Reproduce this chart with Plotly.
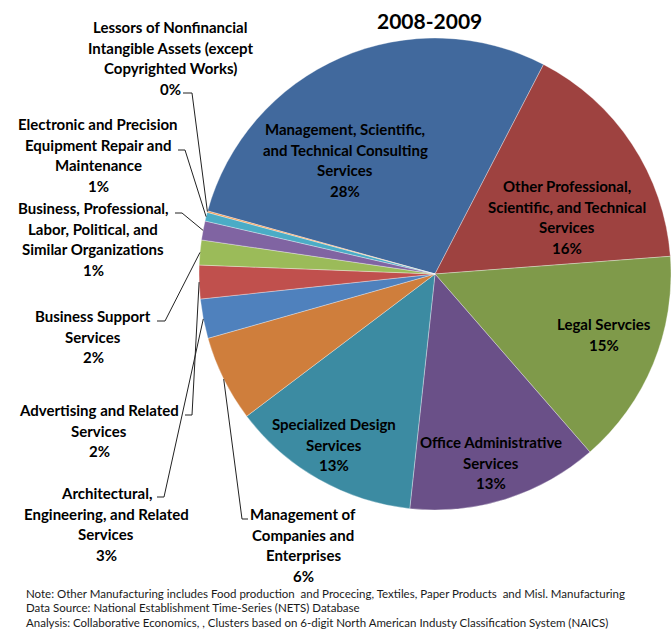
import math
import plotly.graph_objects as go

W, H = 671, 633

# ---- data -------------------------------------------------------------
categories = [
    "Management, Scientific, and Technical Consulting Services",
    "Other Professional, Scientific, and Technical Services",
    "Legal Servcies",
    "Office Administrative Services",
    "Specialized Design Services",
    "Management of Companies and Enterprises",
    "Architectural, Engineering, and Related Services",
    "Advertising and Related Services",
    "Business Support Services",
    "Business, Professional, Labor, Political, and Similar Organizations",
    "Electronic and Precision Equipment Repair and Maintenance",
    "Lessors of Nonfinancial Intangible Assets (except Copyrighted Works)",
]
shares = [28.3, 16.2, 14.8, 13.1, 13.0, 5.9, 2.7, 2.3, 1.7, 1.3, 0.6, 0.1]

# label text broken into drawn lines (percent line appended from shares)
label_lines = [
    ["Management, Scientific,", "and Technical Consulting", "Services"],
    ["Other Professional,", "Scientific, and Technical", "Services"],
    ["Legal Servcies"],
    ["Office Administrative", "Services"],
    ["Specialized Design", "Services"],
    ["Management of", "Companies and", "Enterprises"],
    ["Architectural,", "Engineering, and Related", "Services"],
    ["Advertising and Related", "Services"],
    ["Business Support", "Services"],
    ["Business, Professional,", "Labor, Political, and", "Similar Organizations"],
    ["Electronic and Precision", "Equipment Repair and", "Maintenance"],
    ["Lessors of Nonfinancial", "Intangible Assets (except", "Copyrighted Works)"],
]

title = "2008-2009"
notes = [
    "Note: Other Manufacturing includes Food production  and Procecing, Textiles, Paper Products  and Misl. Manufacturing",
    "Data Source: National Establishment Time-Series (NETS) Database",
    "Analysis: Collaborative Economics, , Clusters based on 6-digit North American Industy Classification System (NAICS)",
]

# ---- styling / layout -------------------------------------------------
colors = ["#41699D", "#9E4240", "#7F9A4A", "#6A5088", "#3C8BA2", "#CF7E3C",
          "#4F81BD", "#C0504D", "#9BBB59", "#8064A2", "#4BACC6", "#F79646"]

FONT = "Lato"
LBL_SIZE = 15
LINE_GAP = 20.5

# pie box in pixels
PX_L, PX_R, PX_T, PX_B = 199, 671, 38, 510
CX, CY = (PX_L + PX_R) / 2, (PX_T + PX_B) / 2
R = min(PX_R - PX_L, PX_B - PX_T) / 2
START_ANGLE = 285.5  # degrees clockwise from 12 o'clock

# label placement: (center x, y of first line, leader start + elbow or None)
label_pos = [
    (345, 129, None),
    (567, 186, None),
    (604, 324, None),
    (491, 442, None),
    (334, 424, None),
    (303, 514, ((248, 519), (242, 519))),
    (106, 493, ((157, 497), (164, 497))),
    (99, 410, ((185, 415), (192, 415))),
    (93, 316, ((157, 321), (165, 321))),
    (93, 208, ((175, 213), (182, 213))),
    (98, 124, ((178, 150), (185, 150))),
    (170, 27, ((183, 93), (192, 93))),
]

fig = go.Figure()

fig.add_trace(go.Pie(
    labels=categories,
    values=shares,
    sort=False,
    direction="clockwise",
    rotation=START_ANGLE,
    marker=dict(colors=colors, line=dict(color="rgba(255,255,255,0.55)", width=0.6)),
    textinfo="none",
    hoverinfo="label+percent",
    showlegend=False,
    domain=dict(x=[PX_L / W, PX_R / W], y=[1 - PX_B / H, 1 - PX_T / H]),
))

# pixel-space helper axes for annotations and leader lines
fig.update_layout(
    xaxis=dict(range=[0, W], visible=False, domain=[0, 1], fixedrange=True),
    yaxis=dict(range=[H, 0], visible=False, domain=[0, 1], fixedrange=True),
)

total = sum(shares)
annotations = []
shapes = []
cum = 0.0
for i, (lines, v) in enumerate(zip(label_lines, shares)):
    mid = START_ANGLE + (cum + v / 2) / total * 360.0
    cum += v
    cx, y0, leader = label_pos[i]
    all_lines = lines + [f"{round(v / total * 100)}%"]
    for k, t in enumerate(all_lines):
        annotations.append(dict(
            x=cx, y=y0 + k * LINE_GAP, xref="x", yref="y", text=f"<b>{t}</b>",
            showarrow=False, xanchor="center", yanchor="middle",
            font=dict(family=FONT, size=LBL_SIZE, color="#000000"),
        ))
    if leader is not None:
        a = math.radians(mid)
        ex, ey = CX + R * math.sin(a), CY - R * math.cos(a)
        (sx, sy), (bx, by) = leader
        shapes.append(dict(type="path", xref="x", yref="y",
                           path=f"M{sx},{sy} L{bx},{by} L{ex:.1f},{ey:.1f}",
                           line=dict(color="#222222", width=1)))

annotations.append(dict(
    x=429, y=20, xref="x", yref="y", text=f"<b>{title}</b>", showarrow=False,
    xanchor="center", yanchor="middle",
    font=dict(family=FONT, size=21, color="#000000"),
))
for k, t in enumerate(notes):
    annotations.append(dict(
        x=24, y=593 + k * 14.7, xref="x", yref="y", text=t, showarrow=False,
        xanchor="left", yanchor="middle",
        font=dict(family=FONT, size=11.5, color="#1a1a1a"),
    ))

fig.update_layout(
    width=W, height=H,
    margin=dict(l=0, r=0, t=0, b=0),
    paper_bgcolor="white", plot_bgcolor="white",
    annotations=annotations, shapes=shapes,
)

fig.write_html("out.html")
